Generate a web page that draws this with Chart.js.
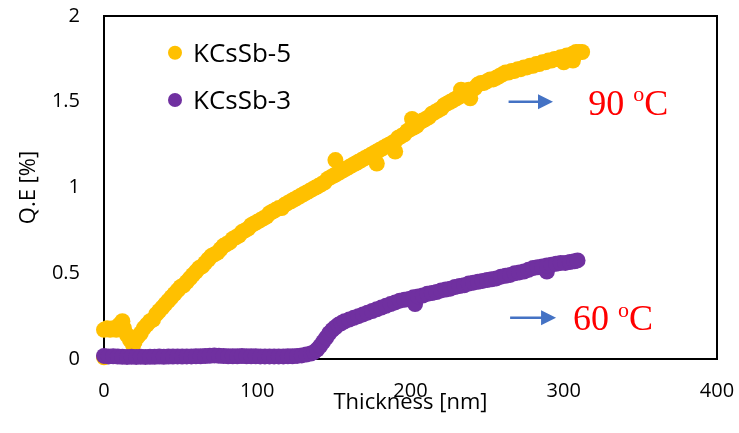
<!DOCTYPE html>
<html>
<head>
<meta charset="utf-8">
<script src="https://cdn.jsdelivr.net/npm/chart.js@4.4.1/dist/chart.umd.min.js"></script>
<style>
  html, body { margin: 0; padding: 0; background: #fff; }
  #wrap { width: 739px; height: 433px; }
</style>
</head>
<body>
<div id="wrap"><canvas id="c" width="739" height="433"></canvas></div>
<script>
// ---- data ----
const seriesNames = ["KCsSb-5", "KCsSb-3"];
const xTicks = [0, 100, 200, 300, 400];
const yTicks = [0, 0.5, 1, 1.5, 2];

const xK5 = [0,0,2,4,6,8,10,12,13,15,17,19,20,22,24,26,28,30,32,34,36,38,40,42,44,46,48,50,52,54,56,58,60,62,64,66,68,70,72,74,76,78,80,82,84,86,88,90,92,94,96,98,100,102,104,106,108,110,112,114,116,118,120,122,124,126,128,130,132,134,136,138,140,142,144,146,148,151,150,152,154,156,158,160,162,164,166,168,170,172,174,176,178,178,180,182,184,186,188,190,190,192,194,196,198,200,201,202,204,206,208,210,212,214,216,218,220,222,224,226,228,230,232,233,234,236,238,239,240,242,244,246,248,250,252,254,256,258,260,262,264,266,268,270,272,274,276,278,280,282,284,286,288,290,292,294,296,298,300,300,302,304,306,306,308,310,312];
const yK5 = [0.01,0.17,0.18,0.17,0.18,0.17,0.20,0.22,0.18,0.14,0.11,0.08,0.10,0.13,0.15,0.18,0.20,0.22,0.23,0.26,0.28,0.30,0.32,0.34,0.36,0.38,0.40,0.42,0.43,0.45,0.47,0.49,0.51,0.53,0.54,0.56,0.58,0.60,0.61,0.62,0.64,0.66,0.67,0.68,0.70,0.71,0.72,0.74,0.75,0.76,0.78,0.79,0.80,0.81,0.82,0.83,0.85,0.86,0.87,0.88,0.88,0.90,0.91,0.92,0.93,0.94,0.95,0.96,0.97,0.98,0.99,1.00,1.01,1.02,1.03,1.05,1.06,1.16,1.07,1.08,1.09,1.10,1.11,1.12,1.13,1.14,1.15,1.16,1.17,1.18,1.19,1.20,1.14,1.21,1.22,1.23,1.24,1.25,1.26,1.21,1.27,1.29,1.30,1.31,1.33,1.34,1.40,1.35,1.36,1.38,1.39,1.40,1.41,1.43,1.44,1.45,1.46,1.48,1.49,1.50,1.51,1.52,1.53,1.57,1.55,1.56,1.57,1.52,1.57,1.58,1.60,1.61,1.61,1.62,1.63,1.63,1.64,1.65,1.66,1.67,1.67,1.68,1.68,1.69,1.69,1.70,1.70,1.71,1.71,1.72,1.72,1.73,1.73,1.74,1.74,1.75,1.75,1.76,1.76,1.73,1.77,1.77,1.78,1.74,1.79,1.79,1.79];

const xK3 = [0,3,6,9,12,15,18,21,24,27,30,33,36,39,42,45,48,51,54,57,60,63,66,69,72,75,78,81,84,87,90,93,96,99,102,105,108,111,114,117,120,123,126,129,132,135,137,139,141,143,145,147,149,151,153,155,157,160,163,166,169,172,175,178,181,184,187,190,193,196,199,202,203,205,208,211,214,217,220,223,226,229,232,235,238,241,244,247,250,253,256,259,262,265,268,271,274,277,280,283,286,289,289,292,295,298,301,304,307,309];
const yK3 = [0.018,0.015,0.016,0.014,0.013,0.012,0.013,0.012,0.013,0.012,0.013,0.013,0.014,0.013,0.014,0.014,0.015,0.014,0.015,0.015,0.016,0.016,0.017,0.019,0.021,0.019,0.017,0.016,0.016,0.016,0.017,0.016,0.016,0.016,0.015,0.015,0.015,0.015,0.015,0.015,0.016,0.016,0.018,0.021,0.026,0.032,0.040,0.055,0.075,0.100,0.125,0.150,0.170,0.185,0.200,0.210,0.220,0.230,0.240,0.250,0.260,0.270,0.280,0.290,0.300,0.310,0.320,0.330,0.340,0.345,0.350,0.360,0.320,0.365,0.370,0.380,0.385,0.390,0.400,0.405,0.410,0.420,0.425,0.430,0.440,0.445,0.450,0.455,0.460,0.465,0.470,0.480,0.485,0.490,0.500,0.505,0.510,0.520,0.530,0.535,0.540,0.510,0.545,0.550,0.555,0.560,0.560,0.565,0.570,0.575];

// ---- annotations (data coordinates) ----
const arrows = [ {x0: 264, x1: 293, y: 1.50}, {x0: 265, x1: 295, y: 0.241} ];
const tempLabels = [ {x: 316, y: 1.423, num: "90"}, {x: 306, y: 0.169, num: "60"} ];

const colors = ["#FFC000", "#7030A0"];
const FONT = "'Open Sans', Lato, sans-serif";
const SERIF = "'Liberation Serif', 'Times New Roman', serif";

const framePlugin = {
  id: 'frame',
  beforeDatasetsDraw(chart) {
    const {ctx, chartArea: a} = chart;
    ctx.save();
    ctx.strokeStyle = '#000';
    ctx.lineWidth = 2;
    ctx.strokeRect(a.left, a.top, a.right - a.left, a.bottom - a.top);
    ctx.restore();
  }
};

const annotPlugin = {
  id: 'annot',
  afterDatasetsDraw(chart) {
    const {ctx, chartArea: a} = chart;
    const xs = chart.scales.x, ys = chart.scales.y;
    ctx.save();
    // legend
    seriesNames.forEach((name, i) => {
      const cy = a.top + 36.7 + i * 47.3;
      ctx.fillStyle = colors[i];
      ctx.beginPath();
      ctx.arc(a.left + 71, cy, 7, 0, Math.PI * 2);
      ctx.fill();
      ctx.fillStyle = '#000';
      ctx.font = "26px " + FONT;
      ctx.textBaseline = 'alphabetic';
      ctx.textAlign = 'left';
      ctx.fillText(name, a.left + 89, cy + 9);
    });
    // arrows
    ctx.strokeStyle = '#4472C4';
    ctx.fillStyle = '#4472C4';
    ctx.lineWidth = 2.5;
    arrows.forEach(ar => {
      const px0 = xs.getPixelForValue(ar.x0);
      const px1 = xs.getPixelForValue(ar.x1);
      const py = ys.getPixelForValue(ar.y);
      const head = 15;
      ctx.beginPath();
      ctx.moveTo(px0, py);
      ctx.lineTo(px1 - head + 1, py);
      ctx.stroke();
      ctx.beginPath();
      ctx.moveTo(px1, py);
      ctx.lineTo(px1 - head, py - 7.5);
      ctx.lineTo(px1 - head, py + 7.5);
      ctx.closePath();
      ctx.fill();
    });
    // temperature labels
    ctx.fillStyle = '#FF0000';
    ctx.textAlign = 'left';
    ctx.textBaseline = 'alphabetic';
    tempLabels.forEach(t => {
      const px = xs.getPixelForValue(t.x);
      const py = ys.getPixelForValue(t.y);
      ctx.font = "36px " + SERIF;
      const w = ctx.measureText(t.num + " ").width;
      ctx.fillText(t.num + " ", px, py);
      ctx.font = "22px " + SERIF;
      const wo = ctx.measureText("o").width;
      ctx.fillText("o", px + w, py - 13.5);
      ctx.font = "36px " + SERIF;
      ctx.fillText("C", px + w + wo, py);
    });
    ctx.restore();
  }
};

const mk = (xs, ys) => xs.map((x, i) => ({x: x, y: ys[i]}));
const zeroPad = s => { s.paddingLeft = 0; s.paddingRight = 0; s.paddingTop = 0; s.paddingBottom = 0; };

new Chart(document.getElementById('c'), {
  type: 'scatter',
  data: {
    datasets: [
      { label: seriesNames[0], data: mk(xK5, yK5), backgroundColor: colors[0], borderWidth: 0,
        pointRadius: 8, pointHoverRadius: 8, clip: false, order: 2 },
      { label: seriesNames[1], data: mk(xK3, yK3), backgroundColor: colors[1], borderWidth: 0,
        pointRadius: 8, pointHoverRadius: 8, clip: false, order: 1 }
    ]
  },
  options: {
    responsive: false,
    animation: false,
    events: [],
    layout: { padding: { left: 0, top: 16, right: 22, bottom: 0 } },
    plugins: { legend: { display: false }, tooltip: { enabled: false } },
    scales: {
      x: {
        type: 'linear', min: 0, max: 400,
        afterBuildTicks: s => { s.ticks = xTicks.map(v => ({value: v})); },
        afterFit: s => { s.height = 74; zeroPad(s); },
        grid: { display: false, drawTicks: false },
        border: { display: false },
        ticks: { color: '#000', font: { size: 20, family: FONT }, padding: 20, maxRotation: 0,
                 callback: v => String(v) },
        title: { display: true, text: 'Thickness [nm]', color: '#000',
                 font: { size: 22, family: FONT }, padding: { top: 0, bottom: 17 } }
      },
      y: {
        type: 'linear', min: 0, max: 2,
        afterBuildTicks: s => { s.ticks = yTicks.map(v => ({value: v})); },
        afterFit: s => { s.width = 104; zeroPad(s); },
        grid: { display: false, drawTicks: false },
        border: { display: false },
        ticks: { color: '#000', font: { size: 20, family: FONT }, padding: 24,
                 callback: v => String(v) },
        title: { display: true, text: 'Q.E [%]', color: '#000',
                 font: { size: 22, family: FONT }, padding: { top: 16, bottom: 0 } }
      }
    }
  },
  plugins: [framePlugin, annotPlugin]
});
</script>
</body>
</html>
